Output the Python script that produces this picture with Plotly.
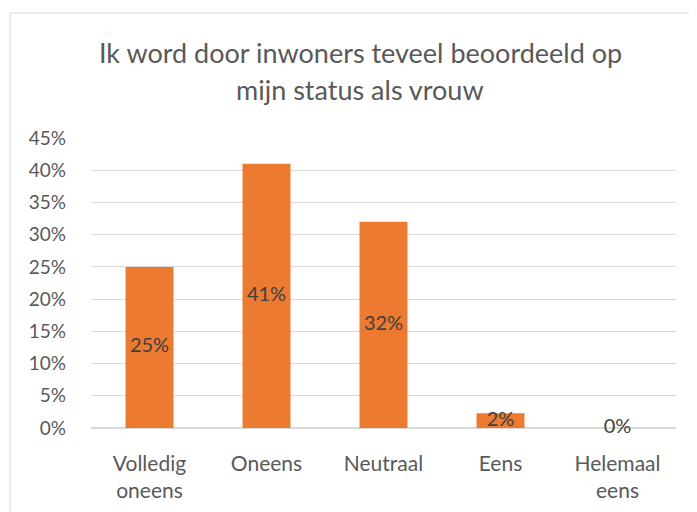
import plotly.graph_objects as go

# Data
categories = ['Volledig<br>oneens', 'Oneens', 'Neutraal', 'Eens', 'Helemaal<br>eens']
values = [25, 41, 32, 2.3, 0]
labels = ['25%', '41%', '32%', '2%', '0%']
y_ticks = [0, 5, 10, 15, 20, 25, 30, 35, 40, 45]
title_lines = ['Ik word door inwoners teveel beoordeeld op', 'mijn status als vrouw']

fig = go.Figure()

# Bars
fig.add_trace(go.Bar(
    x=categories, y=values, width=0.41,
    marker=dict(color='#EC7A30', line=dict(width=0)),
    hoverinfo='skip', showlegend=False
))

# Data labels centred on each bar
fig.add_trace(go.Scatter(
    x=categories, y=[v / 2 for v in values], mode='text', text=labels,
    textfont=dict(family='Lato', size=20, color='#404040'),
    cliponaxis=False, hoverinfo='skip', showlegend=False
))

# plot area: x 83..668, y 130..420 (figure px); page has 8px body margin
PL, PW, PB, PH = 83, 585, 420, 290

# Chart border
fig.add_shape(type='rect', xref='paper', yref='paper',
              x0=(2 - PL) / PW, x1=(700 - PL) / PW,
              y0=(PB - 520) / PH, y1=(PB - 5) / PH,
              line=dict(color='#D9D9D9', width=1), fillcolor='rgba(0,0,0,0)', layer='below')

# Title, two lines
for line, ypx in zip(title_lines, [44, 82]):
    fig.add_annotation(text=line, xref='paper', yref='paper',
                       x=(352 - PL) / PW, y=(PB - ypx) / PH,
                       xanchor='center', yanchor='middle', showarrow=False,
                       font=dict(family='Lato', size=27, color='#595959'))

fig.update_layout(
    width=697, height=512,
    margin=dict(l=PL, r=697 - PL - PW, t=130, b=512 - PB),
    plot_bgcolor='white', paper_bgcolor='white',
    font=dict(family='Lato', color='#595959'),
    bargap=0.59,
    xaxis=dict(showgrid=False, showline=False, ticks='', ticklabelstandoff=21,
               automargin=False,
               tickfont=dict(size=21, color='#595959'), fixedrange=True),
    yaxis=dict(range=[0, 45], tickvals=y_ticks, ticktext=[f'{t}%' for t in y_ticks],
               showgrid=True, gridcolor='#D9D9D9', gridwidth=1,
               zeroline=True, zerolinecolor='#D9D9D9', zerolinewidth=2,
               showline=False, ticks='', ticklabelstandoff=24, automargin=False,
               tickfont=dict(size=19, color='#595959'), fixedrange=True),
)

fig.write_html('out.html')
